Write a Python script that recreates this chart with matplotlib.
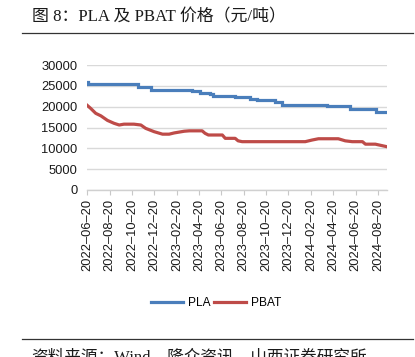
import matplotlib
matplotlib.use("Agg")
import matplotlib.pyplot as plt
import matplotlib.dates as mdates
import pandas as pd

# ---- data ----
pla_dates = ["2022-06-20", "2022-06-23", "2022-11-05", "2022-12-10", "2023-04-02",
             "2023-04-24", "2023-05-21", "2023-05-29", "2023-07-28", "2023-09-07",
             "2023-09-26", "2023-11-14", "2023-12-04", "2024-04-04", "2024-06-06",
             "2024-08-16", "2024-09-13"]
pla_values = [26000, 25400, 24700, 24000, 23700,
              23300, 23000, 22500, 22300, 21900,
              21600, 21100, 20500, 20100, 19500,
              18800, 18800]

pbat_dates = ["2022-06-20", "2022-06-29", "2022-07-13", "2022-07-27", "2022-08-14",
              "2022-09-01", "2022-09-15", "2022-09-28", "2022-10-25", "2022-11-13",
              "2022-11-26", "2022-12-19", "2023-01-11", "2023-01-29", "2023-02-12",
              "2023-03-11", "2023-03-25", "2023-04-29", "2023-05-07", "2023-05-16",
              "2023-06-23", "2023-07-01", "2023-07-28", "2023-08-05", "2023-08-16",
              "2024-02-04", "2024-02-23", "2024-03-11", "2024-05-04", "2024-05-23",
              "2024-06-11", "2024-07-09", "2024-07-17", "2024-08-13", "2024-09-13"]
pbat_values = [20300, 19600, 18400, 17800, 16700,
               16000, 15600, 15800, 15800, 15600,
               14800, 14000, 13400, 13400, 13700,
               14100, 14200, 14200, 13600, 13200,
               13200, 12400, 12400, 11800, 11600,
               11600, 12000, 12300, 12300, 11800,
               11600, 11600, 11000, 11000, 10400]

series_names = ["PLA", "PBAT"]
y_ticks = [0, 5000, 10000, 15000, 20000, 25000, 30000]
title_text = "图 8：PLA 及 PBAT 价格（元/吨）"
source_text = "资料来源：Wind，隆众资讯，山西证券研究所"

# ---- figure ----
W, H = 415, 357
fig = plt.figure(figsize=(W / 100, H / 100), dpi=100)

def fx(px):
    return px / W

def fy(py):
    return 1 - py / H

ax = fig.add_axes([fx(87.3), fy(190), fx(386.7) - fx(87.3), fy(65) - fy(190)])

blue = "#4a7ebb"
red = "#be4b48"

ax.plot(pd.to_datetime(pla_dates), pla_values, color=blue, lw=2.3,
        drawstyle="steps-post", label=series_names[0], solid_joinstyle="miter")
ax.plot(pd.to_datetime(pbat_dates), pbat_values, color=red, lw=2.3,
        label=series_names[1])

ax.set_ylim(0, 30000)
ax.set_yticks(y_ticks)
ax.set_xlim(pd.Timestamp("2022-06-20"), pd.Timestamp("2024-09-13"))
ax.xaxis.set_major_locator(mdates.MonthLocator(bymonth=[2, 4, 6, 8, 10, 12], bymonthday=20))
ax.xaxis.set_major_formatter(mdates.DateFormatter("%Y–%m–%d"))

ax.grid(axis="y", color="#d9d9d9", lw=1.0)
ax.set_axisbelow(True)
for s in ["top", "right", "left"]:
    ax.spines[s].set_visible(False)
ax.spines["bottom"].set_color("#d0d0d0")
ax.spines["bottom"].set_linewidth(1.0)

tick_font = ["Liberation Sans", "DejaVu Sans"]
ax.tick_params(axis="y", length=0, pad=7, labelsize=9.3, labelcolor="#1a1a1a")
ax.tick_params(axis="x", length=3.8, width=0.8, color="#c8c8c8", pad=2.5,
               labelsize=9.3, labelcolor="#1a1a1a", labelrotation=90)
for lab in ax.get_xticklabels() + ax.get_yticklabels():
    lab.set_fontfamily(tick_font)

# legend
leg = fig.legend(loc="center", bbox_to_anchor=(fx(216), fy(303)), ncol=2, frameon=False,
                 handlelength=2.7, handletextpad=0.4, columnspacing=0.3,
                 borderpad=0.2,
                 prop={"family": ["Liberation Sans"], "size": 8.6})

# title and rules
fig.text(fx(31.5), fy(17.5), title_text, ha="left", va="center", fontsize=12.2,
         family=["Liberation Serif", "Noto Sans CJK SC"], color="#1a1a1a")
fig.add_artist(plt.Line2D([fx(22), fx(413)], [fy(33), fy(33)], color="#333333", lw=0.9))
fig.add_artist(plt.Line2D([fx(22), fx(413)], [fy(339.3), fy(339.3)], color="#333333", lw=0.9))
fig.text(fx(31.5), fy(349.5), source_text, ha="left", va="top", fontsize=12,
         family=["Liberation Serif", "Noto Sans CJK SC"], color="#1a1a1a")

fig.savefig("out.png", dpi=100)
